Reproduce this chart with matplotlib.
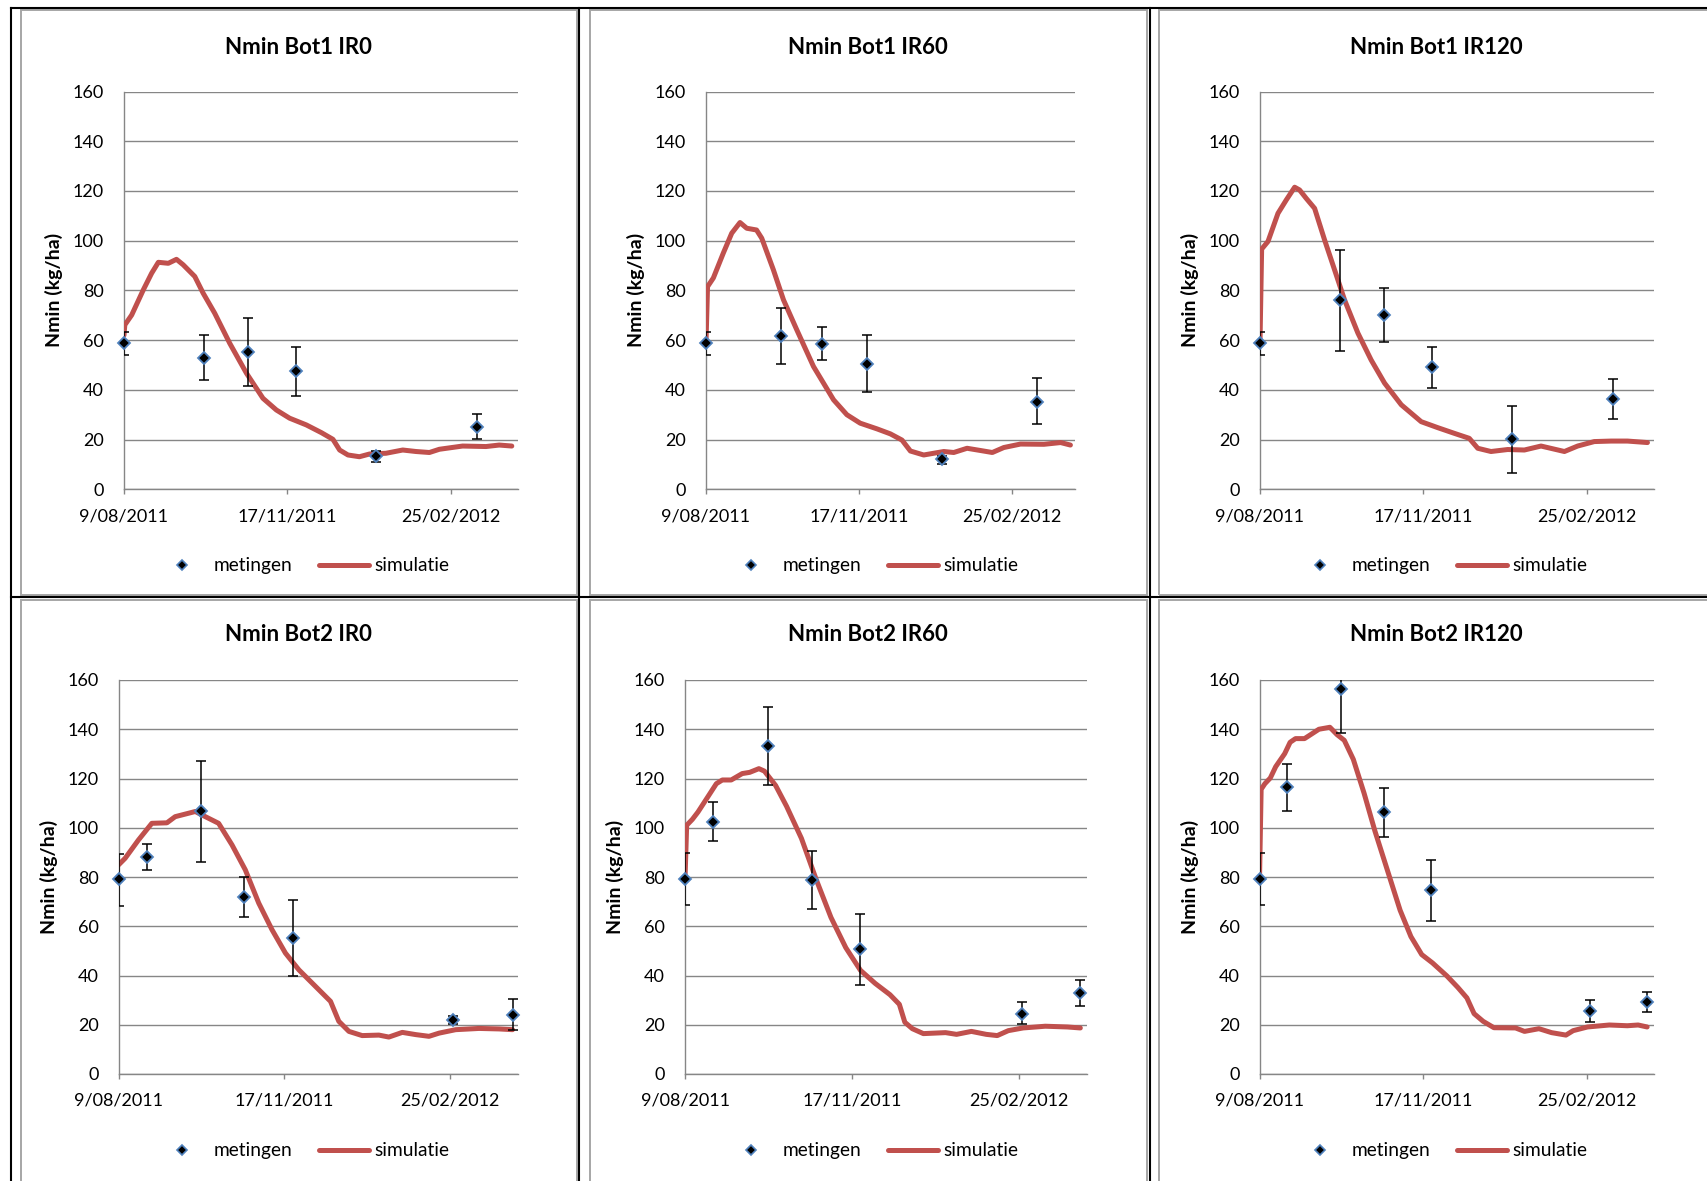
import numpy as np
import matplotlib
matplotlib.use("Agg")
import matplotlib.pyplot as plt
from matplotlib.lines import Line2D
from matplotlib.patches import Rectangle

plt.rcParams['font.family'] = ['Lato', 'DejaVu Sans']

# ---------------- data ----------------
titles = ["Nmin Bot1 IR0", "Nmin Bot1 IR60", "Nmin Bot1 IR120",
          "Nmin Bot2 IR0", "Nmin Bot2 IR60", "Nmin Bot2 IR120"]
x_tick_days = [0, 100, 200]          # days after 9/08/2011
x_tick_labels = ["9/08/2011", "17/11/2011", "25/02/2012"]
y_ticks = [0, 20, 40, 60, 80, 100, 120, 140, 160]
ylabel = "Nmin (kg/ha)"
legend_labels = ["metingen", "simulatie"]

# measurements (metingen): day, value, upper, lower
meas_days_bot1 = [0, 49, 76, 105, 154, 216]
b1_ir0_val = [58.7, 53.0, 55.1, 47.6, 13.4, 25.2]
b1_ir0_hi = [63.2, 62.0, 68.8, 57.4, 15.6, 30.2]
b1_ir0_lo = [54.0, 44.0, 41.6, 37.7, 11.0, 20.1]

b1_ir60_val = [58.7, 61.6, 58.6, 50.4, 12.2, 35.3]
b1_ir60_hi = [63.4, 73.0, 65.2, 62.1, 13.5, 44.7]
b1_ir60_lo = [54.0, 50.2, 51.9, 39.0, 10.0, 26.2]

b1_ir120_val = [58.7, 76.0, 70.0, 49.1, 20.1, 36.3]
b1_ir120_hi = [63.4, 96.2, 80.9, 57.1, 33.5, 44.3]
b1_ir120_lo = [54.0, 55.7, 59.3, 40.9, 6.7, 28.3]

b2_ir0_days = [0, 17, 50, 76, 105, 202, 238]
b2_ir0_val = [79.1, 88.2, 106.6, 71.8, 55.2, 22.0, 24.1]
b2_ir0_hi = [89.5, 93.6, 127.3, 79.9, 70.6, 23.7, 30.4]
b2_ir0_lo = [68.3, 82.9, 86.0, 63.6, 39.9, 20.4, 18.0]

b2_ir60_days = [0, 17, 50, 76, 105, 202, 237]
b2_ir60_val = [79.2, 102.5, 133.2, 78.7, 50.8, 24.5, 32.9]
b2_ir60_hi = [89.6, 110.3, 149.0, 90.4, 65.1, 29.1, 38.3]
b2_ir60_lo = [68.5, 94.6, 117.5, 67.1, 36.3, 20.2, 27.6]

b2_ir120_days = [0, 17, 50, 76, 105, 202, 237]
b2_ir120_val = [79.2, 116.4, 156.5, 106.3, 74.7, 25.6, 29.1]
b2_ir120_hi = [89.6, 125.9, 175.0, 116.1, 87.0, 29.9, 33.2]
b2_ir120_lo = [68.5, 106.8, 138.3, 96.3, 62.3, 21.3, 25.0]

# simulation (simulatie)
sim_b1_ir0_days = [0, 0.5, 4.7, 11.8, 16.9, 21, 27.1, 32.1, 36.2, 43.3, 48.4, 55.5, 64.7, 74.9, 85,
                   93.2, 101.3, 111.5, 120.7, 127.8, 131.9, 137, 144, 150.2, 160.3, 170.5, 178.6,
                   186.8, 192.9, 207.1, 221.4, 229.5, 237.2]
sim_b1_ir0_val = [62, 66.1, 70.1, 80.2, 86.9, 91.3, 90.9, 92.5, 90.3, 85.6, 78.9, 70.8, 58.7, 46.7, 36.6,
                  31.9, 28.6, 25.9, 22.8, 20.1, 15.8, 13.8, 13.1, 14.2, 14.5, 15.8, 15.2,
                  14.8, 16.1, 17.4, 17.2, 17.8, 17.4]

sim_b1_ir60_days = [0, 1, 4.8, 11.3, 16.8, 22.2, 26.6, 33, 36.4, 44, 50.6, 59.4, 70.2, 83.3, 92,
                    100.7, 111.7, 120.4, 128, 133.5, 142.2, 155.3, 161.8, 170.5, 179.3, 187, 194.5,
                    205.4, 220.7, 231.6, 238]
sim_b1_ir60_val = [59, 81.5, 85, 95, 103, 107.3, 105, 104.3, 101, 88.3, 76.2, 64, 49.4, 36, 30,
                   26.6, 24.3, 22.3, 19.8, 15.4, 13.8, 15.2, 14.8, 16.5, 15.6, 14.8, 16.8,
                   18.2, 18.1, 18.8, 17.8]

sim_b1_ir120_days = [0, 1, 4.9, 11, 16.1, 21.2, 24.2, 28.3, 33.4, 39.5, 45.6, 51.7, 59.9, 68, 76.2,
                     86.4, 98.6, 108.7, 118.9, 128, 133.2, 141.3, 151.5, 161.7, 171.9, 186.2, 194.3,
                     204.5, 214.7, 224.8, 237]
sim_b1_ir120_val = [59, 96.6, 99.7, 111, 116.4, 121.5, 120.4, 117, 113, 100.3, 88.3, 76.2, 62.8, 52,
                    42.7, 34, 27.2, 24.8, 22.5, 20.5, 16.5, 15.2, 16, 15.8, 17.4, 15.2, 17.4,
                    19.2, 19.4, 19.4, 18.8]

sim_b2_ir0_days = [0, 4, 12, 20.1, 29.2, 34.2, 42.3, 46.3, 52.4, 60.4, 68.5, 76.5, 84.6, 92.6,
                   100.7, 108.8, 118.8, 127.9, 132.9, 139, 147, 157.1, 163.1, 171.2, 179.3, 187.3,
                   193.4, 203.4, 217.5, 229.6, 237.7]
sim_b2_ir0_val = [84.9, 87.6, 95, 101.8, 102, 104.5, 105.9, 106.6, 104.5, 101.8, 93, 82.9, 69.4,
                  58.6, 49.1, 42.3, 35.6, 29.5, 21.4, 17.3, 15.6, 15.8, 15, 16.9, 16, 15.3,
                  16.6, 18, 18.5, 18.3, 18]

sim_b2_ir60_days = [0, 1, 4.4, 7.8, 12.2, 18.8, 22.4, 27.7, 34.3, 38.8, 44.3, 47.6, 54.3, 60.9,
                    69.8, 78.7, 87.5, 96.4, 105.2, 114, 122.9, 128.5, 131.8, 136.3, 142.9, 156.2,
                    162.8, 171.7, 180.6, 187.2, 193.8, 202.7, 216, 229.2, 237]
sim_b2_ir60_val = [79, 101, 103.4, 106.4, 111, 117.9, 119.4, 119.4, 122, 122.5, 124, 123, 117.2,
                   108.7, 95.7, 78.9, 63.6, 51.3, 42.1, 36.8, 32.2, 28.3, 21, 18.4, 16.4, 16.8,
                   16.1, 17.3, 16.1, 15.6, 17.6, 18.7, 19.4, 19.1, 18.7]

sim_b2_ir120_days = [0, 1, 3.3, 6.6, 9.9, 15.4, 18.7, 22, 27.5, 31.9, 36.3, 43, 47.4, 51.8, 57.3,
                     63.9, 70.5, 79.3, 85.9, 92.5, 99.1, 105.7, 114.5, 121.1, 126.7, 131.1, 136.6,
                     143.2, 156.4, 161.9, 170.7, 178.4, 187.2, 191.6, 200.4, 213.7, 224.7, 231.3,
                     236.8]
sim_b2_ir120_val = [79, 115.6, 117.9, 120.2, 124.8, 130.1, 134.7, 136.2, 136.2, 138.1, 140, 140.8,
                    137.8, 135.5, 127.8, 114, 98.7, 80.3, 66.5, 55.8, 48.5, 45.1, 39.8, 35.2,
                    30.9, 24.5, 21.4, 18.8, 18.7, 17.3, 18.4, 16.8, 15.8, 17.6, 19.1, 19.9, 19.6,
                    19.9, 19.1]

panels = [
    (meas_days_bot1, b1_ir0_val, b1_ir0_hi, b1_ir0_lo, sim_b1_ir0_days, sim_b1_ir0_val),
    (meas_days_bot1, b1_ir60_val, b1_ir60_hi, b1_ir60_lo, sim_b1_ir60_days, sim_b1_ir60_val),
    (meas_days_bot1, b1_ir120_val, b1_ir120_hi, b1_ir120_lo, sim_b1_ir120_days, sim_b1_ir120_val),
    (b2_ir0_days, b2_ir0_val, b2_ir0_hi, b2_ir0_lo, sim_b2_ir0_days, sim_b2_ir0_val),
    (b2_ir60_days, b2_ir60_val, b2_ir60_hi, b2_ir60_lo, sim_b2_ir60_days, sim_b2_ir60_val),
    (b2_ir120_days, b2_ir120_val, b2_ir120_hi, b2_ir120_lo, sim_b2_ir120_days, sim_b2_ir120_val),
]

# ---------------- layout (pixels) ----------------
W, H, DPI = 1707, 1181, 100
fig = plt.figure(figsize=(W / DPI, H / DPI), dpi=DPI)
fig.patch.set_facecolor("white")


def fx(x):
    return x / W


def fy(y):
    return 1 - y / H


axes_px = [(124, 518, 91.5, 489.3), (706, 1075, 91.5, 489.3), (1260, 1654, 91.5, 489.3),
           (118.5, 518, 680, 1074), (685, 1087, 680, 1074), (1259.5, 1654, 680, 1074)]
frames_px = [(20.5, 577, 10, 595), (589.5, 1147, 10, 595), (1158.5, 1720, 10, 595),
             (20.5, 577, 600, 1190), (589.5, 1147, 600, 1190), (1158.5, 1720, 600, 1190)]
title_base_y = [53.5, 53.5, 53.5, 641, 641, 641]
legend_y = [565, 565, 565, 1150, 1150, 1150]

GRID = "#868686"
RED = "#C0504D"
BLUE = "#4F81BD"
FS = 13

# chart frames (gray)
for (l, r, t, b) in frames_px:
    fig.add_artist(Rectangle((fx(l), fy(b)), (r - l) / W, (b - t) / H, transform=fig.transFigure,
                             fill=False, edgecolor="#a6a6a6", lw=1.4, zorder=0))

# cell grid lines (black)
blk = dict(color="black", lw=1.5, transform=fig.transFigure, zorder=1)
fig.add_artist(Line2D([fx(11), fx(W + 5)], [fy(7.5), fy(7.5)], **blk))
fig.add_artist(Line2D([fx(11), fx(W + 5)], [fy(597), fy(597)], **blk))
for xv in (11, 579, 1149.5):
    fig.add_artist(Line2D([fx(xv), fx(xv)], [fy(7.5), fy(H + 5)], **blk))

for i, (pdata, (l, r, t, b), (fl, fr, ft, fb)) in enumerate(zip(panels, axes_px, frames_px)):
    mdays, mval, mhi, mlo, sdays, sval = pdata
    mval = np.array(mval)
    ax = fig.add_axes([fx(l), fy(b), (r - l) / W, (b - t) / H])
    ax.set_facecolor("none")
    ax.set_xlim(0, 241)
    ax.set_ylim(0, 160)
    ax.set_yticks(y_ticks)
    ax.set_xticks(x_tick_days)
    ax.set_xticklabels(x_tick_labels)
    ax.grid(axis="y", color=GRID, lw=1.0)
    ax.grid(axis="x", visible=False)
    ax.set_axisbelow(True)
    for s in ("top", "right"):
        ax.spines[s].set_visible(False)
    for s in ("left", "bottom"):
        ax.spines[s].set_color(GRID)
        ax.spines[s].set_linewidth(1.0)
    ax.tick_params(axis="y", length=0, pad=14.4, labelsize=FS)
    ax.tick_params(axis="x", length=3.6, width=1.0, color=GRID, pad=10, labelsize=FS)

    ax.plot(sdays, sval, color=RED, lw=3.6, solid_capstyle="round",
            solid_joinstyle="round", zorder=3)
    ax.errorbar(mdays, mval, yerr=[mval - np.array(mlo), np.array(mhi) - mval], fmt="none",
                ecolor="black", elinewidth=1.1, capsize=3.4, capthick=1.1, zorder=4)
    ax.plot(mdays, mval, "D", ms=6.4, mfc="black", mec=BLUE, mew=1.3, zorder=5, clip_on=False)

    # title
    fig.text(fx((fl + fr) / 2 if i % 3 != 2 else (fl + 1714) / 2), fy(title_base_y[i]), titles[i],
             ha="center", va="baseline", fontsize=16, fontweight="bold")
    # y label
    fig.text(fx(l - 70), fy((t + b) / 2), ylabel, rotation=90, ha="center", va="center",
             fontsize=14, fontweight="bold")
    # legend
    ly = legend_y[i]
    fig.add_artist(Line2D([fx(fl + 161.8)], [fy(ly)], marker="D", ms=5.6, mfc="black", mec=BLUE,
                          mew=1.2, transform=fig.transFigure))
    fig.text(fx(fl + 192.8), fy(ly + 5.7), legend_labels[0], ha="left", va="baseline", fontsize=13.8)
    fig.add_artist(Line2D([fx(fl + 298), fx(fl + 348)], [fy(ly), fy(ly)], color=RED, lw=3.6,
                          solid_capstyle="round", transform=fig.transFigure))
    fig.text(fx(fl + 353.5), fy(ly + 5.7), legend_labels[1], ha="left", va="baseline", fontsize=13.8)

fig.savefig("out.png", dpi=DPI, facecolor="white")
